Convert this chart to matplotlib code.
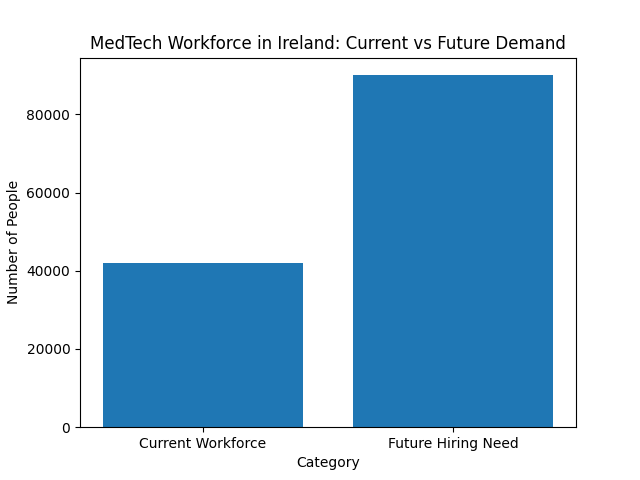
import matplotlib
matplotlib.use("Agg")
import matplotlib.pyplot as plt

categories = ["Current Workforce", "Future Hiring Need"]
values = [42000, 90000]

fig, ax = plt.subplots(figsize=(6.4, 4.8), dpi=100)
ax.bar(categories, values)
ax.set_title("MedTech Workforce in Ireland: Current vs Future Demand")
ax.set_xlabel("Category")
ax.set_ylabel("Number of People")
fig.savefig("out.png")
